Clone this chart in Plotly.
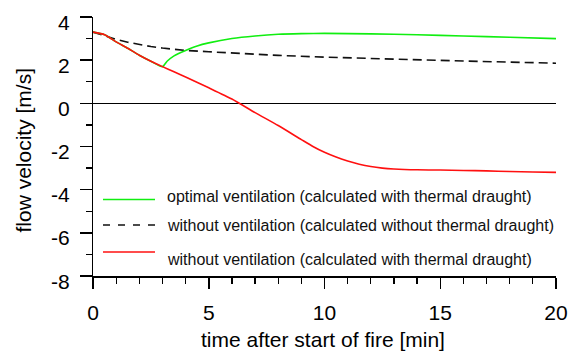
import plotly.graph_objects as go

# time [min]
t_red = [0, 0.5, 1, 1.5, 2, 2.5, 3, 3.5, 4, 5, 6, 7, 8, 9, 9.5, 10, 10.5, 11, 11.5, 12, 12.5, 13, 14, 15, 16, 17, 18, 19, 20]
v_red = [3.3, 3.18, 2.85, 2.55, 2.23, 1.95, 1.7, 1.46, 1.22, 0.72, 0.2, -0.43, -1.03, -1.68, -2.0, -2.27, -2.49, -2.67, -2.82, -2.93, -3.0, -3.04, -3.08, -3.09, -3.11, -3.13, -3.16, -3.18, -3.2]

t_green = [0, 0.5, 1, 1.5, 2, 2.5, 3, 3.2, 3.5, 4, 4.5, 5, 6, 7, 8, 9, 10, 12, 14, 16, 18, 20]
v_green = [3.3, 3.18, 2.85, 2.55, 2.23, 1.95, 1.7, 1.95, 2.2, 2.45, 2.66, 2.8, 3.0, 3.12, 3.2, 3.23, 3.24, 3.22, 3.18, 3.12, 3.06, 3.0]

t_dash = [0, 0.5, 1, 1.5, 2, 2.5, 3, 4, 5, 6, 7, 8, 10, 12, 14, 16, 18, 20]
v_dash = [3.3, 3.12, 2.96, 2.83, 2.72, 2.63, 2.56, 2.45, 2.39, 2.33, 2.28, 2.22, 2.14, 2.07, 2.01, 1.96, 1.91, 1.86]

x_ticks = [0, 5, 10, 15, 20]
y_ticks = [-8, -6, -4, -2, 0, 2, 4]
y_ticklabels = ["-8", "-6", "-4", "-2", "0", "2", "4"]

x_title = "time after start of fire [min]"
y_title = "flow velocity [m/s]"

legend_labels = [
    "optimal ventilation (calculated with thermal draught)",
    "without ventilation (calculated without thermal draught)",
    "without ventilation (calculated with thermal draught)",
]

GREEN = "#11ee11"
RED = "#ff1010"
FONT = "Liberation Sans, Arial, sans-serif"

fig = go.Figure()
fig.add_trace(go.Scatter(x=t_dash, y=v_dash, mode="lines",
                         line=dict(color="#111111", width=1.6, dash="9px,5px"),
                         showlegend=False, hoverinfo="skip"))
fig.add_trace(go.Scatter(x=t_green, y=v_green, mode="lines",
                         line=dict(color=GREEN, width=1.6, shape="spline", smoothing=0.6),
                         showlegend=False, hoverinfo="skip"))
fig.add_trace(go.Scatter(x=t_red, y=v_red, mode="lines",
                         line=dict(color=RED, width=1.6, shape="spline", smoothing=0.6),
                         showlegend=False, hoverinfo="skip"))

W, H = 570, 351
L, R, T, B = 93, 14, 17, 75
pw, ph = W - L - R, H - T - B

def px2paper(x, y):
    return (x - L) / pw, 1 - (y - T) / ph

# manual legend
sample_styles = [
    (GREEN, "solid", 199.5, 196),
    ("#111111", "7px,8px", 225, 225),
    (RED, "solid", 252, 259),
]
for (col, dash, ly, ty), lab in zip(sample_styles, legend_labels):
    x0, y0 = px2paper(103, ly)
    x1, _ = px2paper(155, ly)
    fig.add_shape(type="line", xref="paper", yref="paper", x0=x0, x1=x1, y0=y0, y1=y0,
                  line=dict(color=col, width=1.3, dash=dash))
    tx, tyy = px2paper(165, ty)
    fig.add_annotation(xref="paper", yref="paper", x=tx, y=tyy, text=lab,
                       showarrow=False, xanchor="left", yanchor="middle",
                       font=dict(family=FONT, size=16, color="#111111"))

# y tick labels (slightly below their ticks, as in the original)
for v, lab in zip(y_ticks, y_ticklabels):
    fig.add_annotation(xref="paper", yref="y", x=0, y=v, text=lab, showarrow=False,
                       xanchor="right", yanchor="middle", xshift=-21, yshift=-5,
                       font=dict(family=FONT, size=21, color="black"))

# axis titles
fig.add_annotation(xref="paper", yref="paper", x=0, y=0.5, text=y_title, showarrow=False,
                   textangle=-90, xanchor="center", yanchor="middle", xshift=-70, yshift=-4,
                   font=dict(family=FONT, size=21, color="black"))
fig.add_annotation(xref="paper", yref="paper", x=0.5, y=0, text=x_title, showarrow=False,
                   xanchor="center", yanchor="middle", xshift=-2, yshift=-63,
                   font=dict(family=FONT, size=21, color="black"))

fig.update_layout(
    width=W, height=H,
    margin=dict(l=L, r=R, t=T, b=B, autoexpand=False),
    paper_bgcolor="white", plot_bgcolor="white",
    font=dict(family=FONT, size=21, color="black"),
    hovermode=False,
)
fig.update_xaxes(
    range=[0, 20], tickvals=x_ticks, automargin=False,
    showgrid=False, zeroline=False,
    showline=True, linecolor="black", linewidth=1.5,
    ticks="outside", ticklen=11, tickwidth=1.5, tickcolor="black",
    minor=dict(dtick=1, ticks="outside", ticklen=6, tickwidth=1.3, tickcolor="black", showgrid=False),
    tickfont=dict(size=21), ticklabelstandoff=6, ticklabeloverflow="allow",
)
fig.update_yaxes(
    range=[-8, 4], tickvals=y_ticks, automargin=False, showticklabels=False,
    showgrid=False, zeroline=True, zerolinecolor="black", zerolinewidth=1.3,
    showline=True, linecolor="black", linewidth=1.5,
    ticks="outside", ticklen=12, tickwidth=1.5, tickcolor="black",
    minor=dict(dtick=1, ticks="outside", ticklen=6, tickwidth=1.3, tickcolor="black", showgrid=False),
)

fig.write_html(
    "out.html",
    config={"displayModeBar": False, "staticPlot": True},
    post_script="document.body.style.margin='0';document.body.style.overflow='hidden';",
)
